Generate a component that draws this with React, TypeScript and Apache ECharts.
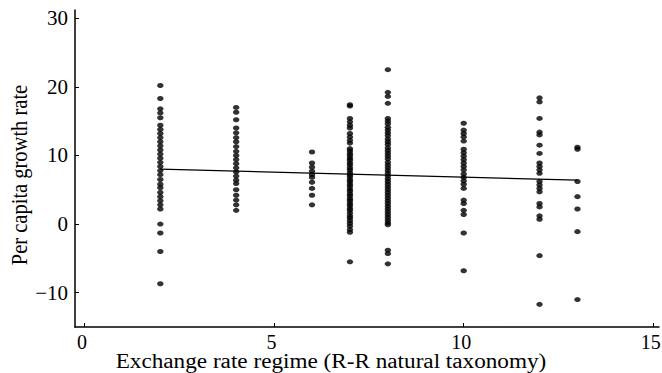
import React, { useEffect, useRef } from "react";
import * as echarts from "echarts";

const regimes = [2, 4, 6, 7, 8, 10, 12, 13];
const growthR2 = [20.2, 18.3, 16.8, 16.2, 15.5, 14.4, 13.8, 13.2, 12.6, 12.0, 11.4, 10.8, 10.2, 9.6, 9.0, 8.4, 7.8, 7.2, 6.5, 5.8, 5.3, 4.6, 4.0, 3.4, 2.8, 2.2, 0.0, -1.3, -4.0, -8.7];
const growthR4 = [17.0, 16.3, 15.2, 14.0, 13.3, 12.6, 12.0, 11.3, 10.6, 10.0, 9.4, 8.8, 8.2, 7.6, 7.0, 6.4, 5.9, 5.0, 4.2, 3.5, 2.8, 2.0];
const growthR6 = [10.5, 8.9, 8.3, 7.7, 7.2, 6.8, 6.1, 5.2, 4.2, 2.8];
const growthR7 = [17.4, 17.2, 15.4, 14.9, 14.4, 14.0, 13.2, 12.7, 12.2, 11.8, 11.0, 10.7, 10.3, 10.0, 9.6, 9.3, 8.9, 8.6, 8.2, 7.9, 7.5, 7.2, 6.9, 6.5, 6.2, 5.8, 5.5, 5.1, 4.8, 4.4, 4.1, 3.7, 3.4, 3.0, 2.7, 2.3, 2.0, 1.6, 1.2, 0.9, 0.5, 0.1, -0.3, -0.8, -1.2, -5.5];
const growthR8 = [22.5, 19.2, 18.6, 17.6, 15.4, 15.0, 14.6, 14.1, 13.7, 13.3, 12.9, 12.4, 12.0, 11.6, 11.1, 10.7, 10.3, 9.9, 9.5, 9.0, 8.6, 8.2, 7.8, 7.4, 7.0, 6.6, 6.2, 5.8, 5.4, 5.0, 4.6, 4.2, 3.8, 3.4, 3.0, 2.6, 2.2, 1.8, 1.4, 1.0, 0.6, 0.2, -0.1, -3.8, -4.3, -5.8];
const growthR10 = [14.7, 13.7, 13.2, 12.7, 12.1, 10.9, 10.4, 9.9, 9.4, 8.9, 8.4, 7.9, 7.3, 6.8, 6.3, 5.8, 5.2, 3.5, 3.0, 2.0, 1.4, -1.3, -6.8];
const growthR12 = [18.4, 17.8, 15.4, 13.4, 13.0, 11.5, 10.3, 8.9, 8.4, 7.9, 7.4, 6.2, 5.7, 5.2, 4.7, 3.0, 2.5, 1.2, 0.7, -4.6, -11.7];
const growthR13 = [11.2, 10.9, 6.2, 4.0, 2.2, -1.1, -11.0];
const growthByRegime = [growthR2, growthR4, growthR6, growthR7, growthR8, growthR10, growthR12, growthR13];

const fitLine = [[2, 8.0], [13, 6.4]];

const xTicks = [0, 5, 10, 15];
const yTicks = [-10, 0, 10, 20, 30];

const xTitle = "Exchange rate regime (R-R natural taxonomy)";
const yTitle = "Per capita growth rate";

const FONT = "Liberation Serif";

export default function App() {
  const ref = useRef<HTMLDivElement>(null);
  useEffect(() => {
    if (!ref.current) return;
    const chart = echarts.init(ref.current, undefined, { renderer: "svg" });
    const points: number[][] = [];
    regimes.forEach((r, i) => {
      growthByRegime[i].forEach((g) => points.push([r, g]));
    });
    chart.setOption({
      animation: false,
      backgroundColor: "#ffffff",
      textStyle: { fontFamily: FONT },
      grid: { left: 75, right: 3, top: 10, bottom: 46, containLabel: false, outerBoundsMode: "none" },
      xAxis: {
        type: "value",
        min: -0.25,
        max: 15.15,
        axisLine: { show: true, onZero: false, lineStyle: { color: "#000", width: 1.5 } },
        axisTick: { show: true, inside: true, length: 4, customValues: xTicks, lineStyle: { color: "#000", width: 1 } },
        axisLabel: {
          customValues: xTicks,
          margin: 5,
          formatter: (v: number) => "{t|" + v + "}",
          rich: { t: { fontFamily: FONT, fontSize: 20, color: "#000", padding: [0, 5, 0, 0] } },
        },
        splitLine: { show: false },
      },
      yAxis: {
        type: "value",
        min: -15,
        max: 31.2,
        axisLine: { show: true, onZero: false, lineStyle: { color: "#000", width: 1.5 } },
        axisTick: { show: true, inside: true, length: 4, customValues: yTicks, lineStyle: { color: "#000", width: 1 } },
        axisLabel: {
          customValues: yTicks,
          margin: 7,
          formatter: (v: number) => "{t|" + String(v).replace("-", "\u2212") + "}",
          rich: { t: { fontFamily: FONT, fontSize: 21, color: "#000" } },
        },
        splitLine: { show: false },
      },
      graphic: [
        {
          type: "text",
          x: 331,
          y: 362,
          scaleX: 1.16,
          style: { text: xTitle, fill: "#000", fontFamily: FONT, fontSize: 20, align: "center", verticalAlign: "middle" },
        },
        {
          type: "text",
          x: 18.5,
          y: 175,
          rotation: Math.PI / 2,
          scaleY: 1.15,
          style: { text: yTitle, fill: "#000", fontFamily: FONT, fontSize: 20.5, align: "center", verticalAlign: "middle" },
        },
      ],
      series: [
        {
          type: "scatter",
          data: points,
          symbol: "circle",
          symbolSize: [6.5, 5],
          itemStyle: { color: "#000" },
        },
        {
          type: "line",
          data: fitLine,
          symbol: "none",
          lineStyle: { color: "#000", width: 1.3 },
        },
      ],
    });
    return () => chart.dispose();
  }, []);
  return <div ref={ref} style={{ position: "fixed", left: 0, top: 0, width: 662, height: 373 }} />;
}
